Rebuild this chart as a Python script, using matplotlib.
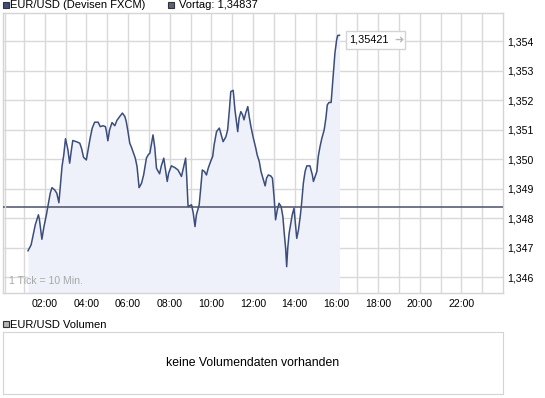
import matplotlib
matplotlib.use("Agg")
import matplotlib.pyplot as plt
from matplotlib.patches import Rectangle

# minutes after midnight and EUR/USD quote
minutes = [72, 81, 86, 93, 102, 105, 110, 112, 118, 125, 131, 136, 141, 149, 155, 161,
           165, 170, 175, 180, 187, 192, 197, 201, 211, 221, 226, 232, 240, 245, 251, 257,
           264, 274, 280, 288, 295, 298, 302, 307, 314, 322, 328, 336, 344, 351, 355, 360,
           365, 370, 375, 381, 386, 392, 399, 405, 413, 418, 423, 427, 432, 437, 442, 447,
           451, 456, 463, 468, 473, 477, 485, 495, 504, 514, 521, 526, 529, 533, 543, 548,
           553, 557, 565, 569, 574, 580, 586, 591, 598, 604, 608, 615, 623, 630, 634, 642,
           647, 652, 656, 663, 668, 673, 676, 680, 685, 690, 694, 699, 705, 709, 714, 721,
           728, 732, 738, 743, 750, 755, 759, 764, 771, 776, 781, 785, 790, 795, 801, 806,
           810, 814, 817, 820, 824, 829, 833, 838, 841, 846, 851, 856, 860, 865, 870, 875,
           884, 891, 894, 899, 904, 908, 913, 918, 925, 930, 934, 939, 945, 950, 952, 956,
           961, 964, 969]
kurs = [1.34690, 1.34710, 1.34738, 1.34778, 1.34812, 1.34795, 1.34749, 1.34729, 1.34772,
        1.34812, 1.34851, 1.34885, 1.34904, 1.34896, 1.34885, 1.34853, 1.34908, 1.34976,
        1.35015, 1.35070, 1.35032, 1.34987, 1.35032, 1.35064, 1.35060, 1.35055, 1.35038,
        1.35007, 1.34998, 1.35032, 1.35072, 1.35106, 1.35126, 1.35126, 1.35111, 1.35114,
        1.35111, 1.35094, 1.35063, 1.35100, 1.35125, 1.35114, 1.35132, 1.35145, 1.35157,
        1.35145, 1.35128, 1.35094, 1.35055, 1.35041, 1.35024, 1.35004, 1.34976, 1.34904,
        1.34919, 1.34947, 1.35004, 1.35015, 1.35021, 1.35049, 1.35083, 1.35041, 1.34970,
        1.34959, 1.34951, 1.34978, 1.35004, 1.34964, 1.34925, 1.34953, 1.34978, 1.34972,
        1.34964, 1.34942, 1.34978, 1.35004, 1.34942, 1.34840, 1.34846, 1.34817, 1.34772,
        1.34812, 1.34846, 1.34896, 1.34964, 1.34959, 1.34947, 1.34970, 1.34993, 1.35010,
        1.35049, 1.35094, 1.35106, 1.35077, 1.35060, 1.35077, 1.35100, 1.35168, 1.35230,
        1.35234, 1.35168, 1.35123, 1.35094, 1.35140, 1.35162, 1.35151, 1.35134, 1.35157,
        1.35179, 1.35145, 1.35111, 1.35072, 1.35038, 1.35015, 1.34993, 1.34959, 1.34930,
        1.34910, 1.34936, 1.34947, 1.34944, 1.34936, 1.34868, 1.34795, 1.34829, 1.34851,
        1.34840, 1.34806, 1.34749, 1.34698, 1.34636, 1.34698, 1.34749, 1.34783, 1.34812,
        1.34834, 1.34795, 1.34732, 1.34761, 1.34806, 1.34851, 1.34919, 1.34959, 1.34978,
        1.34978, 1.34947, 1.34925, 1.34942, 1.34959, 1.35010, 1.35043, 1.35070, 1.35100,
        1.35140, 1.35185, 1.35193, 1.35193, 1.35270, 1.35304, 1.35361, 1.35406, 1.35420,
        1.35421]
vortag = 1.34837
letzter = 1.35421
y_ticks = [1.346, 1.347, 1.348, 1.349, 1.350, 1.351, 1.352, 1.353, 1.354]
x_ticks = [2, 4, 6, 8, 10, 12, 14, 16, 18, 20, 22]

W, H = 545, 398
FONT = "Liberation Sans"
grid_c = "#d9d9d9"
line_c = "#3b4d7c"

fig = plt.figure(figsize=(W / 100, H / 100), dpi=100)
fig.patch.set_facecolor("white")


def fx(px):
    return px / W


def fy(py):
    return 1 - py / H


# main chart
ax = fig.add_axes([fx(3), fy(293), fx(503) - fx(3), fy(13) - fy(293)])
hours = [m / 60 for m in minutes]
ax.set_xlim(0, 24)
ax.set_ylim(1.345467, 1.354964)
for h in range(1, 24):
    ax.axvline(h, color=grid_c, lw=1, zorder=0)
for v in y_ticks:
    ax.axhline(v, color=grid_c, lw=1, zorder=0)
ax.fill_between(hours, kurs, 1.3450, color="#eef1fa", lw=0, zorder=1)
ax.plot(hours, kurs, color=line_c, lw=1.1, zorder=3)
ax.axhline(vortag, color="#4b5068", lw=1.1, zorder=4)
# second thin line next to the left edge
fig.add_artist(plt.Line2D([fx(5), fx(5)], [fy(293), fy(13)], color=grid_c, lw=1))

for s in ax.spines.values():
    s.set_color("#d4d4d4")
    s.set_linewidth(1)
ax.set_xticks(x_ticks)
ax.set_xticklabels(["%02d:00" % h for h in x_ticks])
ax.set_yticks(y_ticks)
ax.set_yticklabels([("%.3f" % v).replace(".", ",") for v in y_ticks])
ax.yaxis.tick_right()
ax.tick_params(length=0, labelsize=7.6, colors="black")
ax.tick_params(axis="y", pad=3)
ax.tick_params(axis="x", pad=4)
for lab in ax.get_xticklabels() + ax.get_yticklabels():
    lab.set_family(FONT)

ax.text(0.012, 0.025, "1 Tick = 10 Min.", transform=ax.transAxes, fontsize=7.6,
        color="#a8a8a8", family=FONT, ha="left", va="bottom")

# last price label box
fig.patches.append(Rectangle((fx(346), fy(48.5)), fx(405) - fx(346), fy(31) - fy(48.5),
                             transform=fig.transFigure, facecolor="white",
                             edgecolor="#d4d4d4", lw=1, zorder=5))
fig.text(fx(349), fy(40), ("%.5f" % letzter).replace(".", ","), fontsize=7.8,
         family=FONT, va="center", ha="left", zorder=6)
fig.text(fx(394), fy(40), "\u279c", fontsize=8, color="#b8b8b8", family="DejaVu Sans",
         va="center", ha="left", zorder=6)

# legend row on top
def legend_box(x, y, color):
    fig.patches.append(Rectangle((fx(x), fy(y + 6)), fx(6), 6 / H, transform=fig.transFigure,
                                 facecolor=color, edgecolor="#333333", lw=0.8))


legend_box(3, 1.5, "#3d4e7c")
fig.text(fx(10), fy(5), "EUR/USD (Devisen FXCM)", fontsize=8, family=FONT, va="center")
legend_box(168, 1.5, "#5a6278")
fig.text(fx(179), fy(5), "Vortag: " + ("%.5f" % vortag).replace(".", ","), fontsize=8,
         family=FONT, va="center")

# volume panel
legend_box(3, 321, "#b4b4b4")
fig.text(fx(10), fy(324.5), "EUR/USD Volumen", fontsize=8, family=FONT, va="center")
axv = fig.add_axes([fx(3), fy(394), fx(503) - fx(3), fy(332) - fy(394)])
axv.set_xticks([])
axv.set_yticks([])
for s in axv.spines.values():
    s.set_color("#d4d4d4")
axv.text(0.5, 0.5, "keine Volumendaten vorhanden", transform=axv.transAxes,
         fontsize=8.8, family=FONT, ha="center", va="center")

fig.savefig("out.png", dpi=100)
